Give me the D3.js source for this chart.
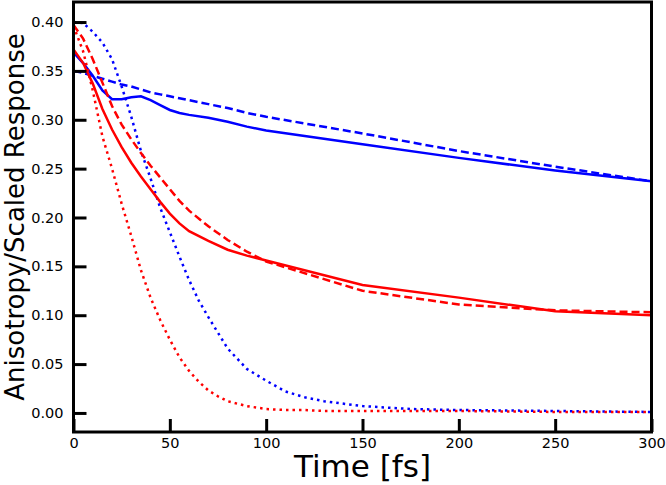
<!DOCTYPE html>
<html>
<head>
<meta charset="utf-8">
<script src="https://cdn.jsdelivr.net/npm/d3@7"></script>
<style>
  html, body { margin: 0; padding: 0; background: #fff; }
  #chart { width: 666px; height: 485px; }
  text { font-family: "DejaVu Sans", sans-serif; fill: #000; }
</style>
</head>
<body>
<div id="chart"></div>
<script>
// time grids (fs)
const timeCoarse = [0, 5, 10, 15, 20, 25, 30, 35, 40, 45, 50, 55, 60, 70, 80, 90, 100, 150, 200, 250, 300];
const timeFine = [0, 5, 10, 15, 20, 25, 30, 35, 40, 45, 50, 55, 60, 65, 70, 75, 80, 90, 100, 110, 120, 130, 150, 175, 200, 250, 300];

// blue curves
const blueSolid = [0.369, 0.358, 0.345, 0.330, 0.321, 0.321, 0.323, 0.324, 0.320, 0.315, 0.310, 0.307, 0.305, 0.302, 0.298, 0.293, 0.289, 0.275, 0.261, 0.248, 0.237];
const blueDashed = [0.350, 0.348, 0.345, 0.342, 0.339, 0.336, 0.334, 0.331, 0.328, 0.326, 0.324, 0.322, 0.320, 0.316, 0.312, 0.307, 0.303, 0.286, 0.268, 0.252, 0.237];
const blueDotted = [0.400, 0.399, 0.390, 0.379, 0.362, 0.334, 0.303, 0.268, 0.240, 0.210, 0.185, 0.160, 0.136, 0.115, 0.098, 0.082, 0.066, 0.045, 0.033, 0.022, 0.016, 0.012, 0.007, 0.004, 0.003, 0.002, 0.001];

// red curves
const redSolid = [0.372, 0.358, 0.337, 0.311, 0.290, 0.272, 0.256, 0.242, 0.229, 0.216, 0.204, 0.194, 0.186, 0.176, 0.167, 0.161, 0.156, 0.131, 0.118, 0.104, 0.100];
const redDashed = [0.397, 0.383, 0.362, 0.338, 0.314, 0.295, 0.280, 0.266, 0.253, 0.241, 0.229, 0.217, 0.207, 0.191, 0.177, 0.165, 0.155, 0.125, 0.111, 0.105, 0.103];
const redDotted = [0.396, 0.370, 0.330, 0.283, 0.250, 0.214, 0.181, 0.146, 0.118, 0.095, 0.075, 0.057, 0.043, 0.032, 0.023, 0.017, 0.012, 0.007, 0.004, 0.003, 0.003, 0.002, 0.002, 0.002, 0.002, 0.001, 0.001];

const xTicks = [0, 50, 100, 150, 200, 250, 300];
const yTicks = [0.00, 0.05, 0.10, 0.15, 0.20, 0.25, 0.30, 0.35, 0.40];

const series = [
    { t: timeCoarse, v: blueSolid, color: '#0000ff', dash: null },
    { t: timeCoarse, v: blueDashed, color: '#0000ff', dash: '8,4' },
    { t: timeFine, v: blueDotted, color: '#0000ff', dash: '2.5,4' },
    { t: timeCoarse, v: redSolid, color: '#ff0000', dash: null },
    { t: timeCoarse, v: redDashed, color: '#ff0000', dash: '8,4' },
    { t: timeFine, v: redDotted, color: '#ff0000', dash: '2.5,4' }
];

const W = 666, H = 485;
const margin = { top: 2, right: 14.5, bottom: 53, left: 73.5 };
const width = W - margin.left - margin.right;
const height = H - margin.top - margin.bottom;

const svg = d3.select('#chart')
    .append('svg')
    .attr('width', W)
    .attr('height', H);

const g = svg.append('g')
    .attr('transform', `translate(${margin.left},${margin.top})`);

const x = d3.scaleLinear().domain([0, 300]).range([0, width]);
const y = d3.scaleLinear().domain([-0.0195, 0.4205]).range([height, 0]);

g.append('clipPath').attr('id', 'clip')
    .append('rect').attr('width', width).attr('height', height);

const line = d3.line()
    .x(d => x(d[0]))
    .y(d => y(d[1]));

g.append('g').attr('clip-path', 'url(#clip)')
    .selectAll('path')
    .data(series)
    .enter()
    .append('path')
    .attr('d', s => line(s.t.map((t, i) => [t, s.v[i]])))
    .style('fill', 'none')
    .style('stroke', s => s.color)
    .style('stroke-width', 2.5)
    .style('stroke-dasharray', s => s.dash);

// axes with inward ticks
const xAxis = g.append('g')
    .attr('transform', `translate(0,${height})`)
    .call(d3.axisBottom(x).tickValues(xTicks).tickSizeInner(-13).tickSizeOuter(0).tickFormat(d3.format('d')));

const yAxis = g.append('g')
    .call(d3.axisLeft(y).tickValues(yTicks).tickSizeInner(-13).tickSizeOuter(0).tickFormat(d3.format('.2f')));

[xAxis, yAxis].forEach(a => {
    a.select('.domain').remove();
    a.selectAll('line').attr('stroke', '#000').attr('stroke-width', 3);
    a.selectAll('text').style('font-size', '14.5px').style('font-family', '"DejaVu Sans", sans-serif');
});
// place tick labels explicitly
xAxis.selectAll('text').attr('y', 6).attr('dy', '0.71em');
yAxis.selectAll('text').attr('x', -10).attr('dy', '0.32em');

// frame
g.append('rect')
    .attr('width', width)
    .attr('height', height)
    .style('fill', 'none')
    .style('stroke', '#000')
    .style('stroke-width', 3);

// labels
svg.append('text')
    .attr('x', margin.left + width / 2)
    .attr('y', 477)
    .style('text-anchor', 'middle')
    .style('font-size', '31px')
    .text('Time [fs]');

svg.append('text')
    .attr('transform', 'rotate(-90)')
    .attr('x', -(margin.top + height / 2))
    .attr('y', 24)
    .style('text-anchor', 'middle')
    .style('font-size', '26px')
    .text('Anisotropy/Scaled Response');
</script>
</body>
</html>
